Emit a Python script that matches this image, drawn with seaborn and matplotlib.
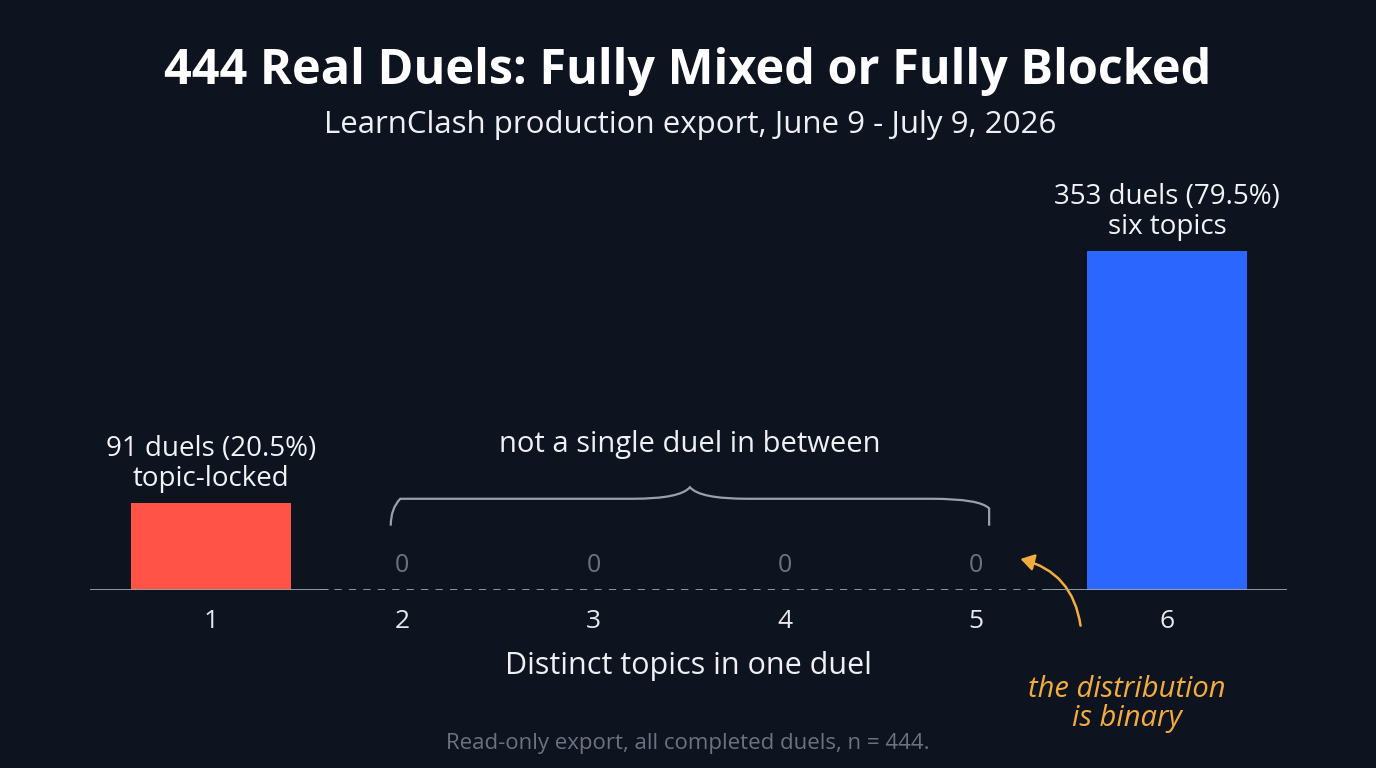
import matplotlib
matplotlib.use("Agg")
import matplotlib.pyplot as plt
import seaborn as sns
import pandas as pd
from matplotlib.path import Path
from matplotlib.patches import PathPatch, FancyArrowPatch

topics = [1, 2, 3, 4, 5, 6]
counts = [91, 0, 0, 0, 0, 353]
bar_colors = ["#ff5347", "#2b66ff", "#2b66ff", "#2b66ff", "#2b66ff", "#2b66ff"]
title = "444 Real Duels: Fully Mixed or Fully Blocked"
subtitle = "LearnClash production export, June 9 - July 9, 2026"
xlabel = "Distinct topics in one duel"
footer = "Read-only export, all completed duels, n = 444."
label_1 = "91 duels (20.5%)\ntopic-locked"
label_6 = "353 duels (79.5%)\nsix topics"
gap_text = "not a single duel in between"
note = "the distribution\nis binary"

BG = "#0e1320"
sns.set_theme(style="dark")
plt.rcParams["font.family"] = ["Open Sans", "DejaVu Sans"]

W, H = 1376, 768
fig = plt.figure(figsize=(W / 100, H / 100), dpi=100, facecolor=BG)
ymax = 420
px_per_unit = 0.9603
ax_top = 590 - ymax * px_per_unit
ax = fig.add_axes([90 / W, 1 - 590 / H, (1287 - 90) / W, (590 - ax_top) / H])
ax.set_facecolor(BG)

df = pd.DataFrame({"topics": topics, "counts": counts})
sns.barplot(data=df, x="topics", y="counts", native_scale=True, width=0.84,
            palette=bar_colors, hue="topics", legend=False, ax=ax, saturation=1,
            linewidth=0, edgecolor="none")
ax.set_xlim(0.367, 6.628)
ax.set_ylim(0, ymax)
for s in ax.spines.values():
    s.set_visible(False)
ax.axhline(0, color="#9aa0ad", lw=1.3, xmin=0, xmax=(1.61 - 0.367) / 6.261)
ax.axhline(0, color="#9aa0ad", lw=1.3, xmin=(5.39 - 0.367) / 6.261, xmax=1)
ax.plot([1.57, 5.45], [0, 0], color="#9aa0ad", lw=1.3, ls=(0, (4, 4)))
ax.set_xticks(topics)
ax.set_xticklabels([str(t) for t in topics], color="#e8eaef", fontsize=19)
ax.tick_params(axis="x", length=0, pad=14)
ax.set_yticks([])
ax.set_xlabel(xlabel, color="#eef0f4", fontsize=22, labelpad=12)
ax.set_ylabel("")
ax.grid(False)

for t, c in zip(topics, counts):
    if c == 0:
        ax.text(t, 26, "0", color="#6c7280", fontsize=18, ha="center", va="center")
ax.text(1, 91 + 10, label_1, color="#f2f3f6", fontsize=20, ha="center", va="bottom", linespacing=1.1)
ax.text(6, 353 + 10, label_6, color="#f2f3f6", fontsize=20, ha="center", va="bottom", linespacing=1.1)

# brace
x0, x1, xm = 1.94, 5.07, 3.505
yb, yt = 67, 95
verts = [(x0, yb), (x0, yt - 10), (x0 + 0.05, yt), (x0 + 0.3, yt),
         (xm - 0.3, yt), (xm - 0.05, yt), (xm, yt + 12),
         (xm + 0.05, yt), (xm + 0.3, yt),
         (x1 - 0.3, yt), (x1 - 0.05, yt), (x1, yt - 10), (x1, yb)]
codes = [Path.MOVETO, Path.CURVE3, Path.CURVE3, Path.LINETO,
         Path.LINETO, Path.CURVE3, Path.CURVE3, Path.CURVE3, Path.CURVE3,
         Path.LINETO, Path.CURVE3, Path.CURVE3, Path.LINETO]
ax.add_patch(PathPatch(Path(verts, codes), fill=False, ec="#9aa0ad", lw=1.6))
ax.text(xm, 152, gap_text, color="#eef0f4", fontsize=21, ha="center", va="center")

# arrow + note
ax.add_patch(FancyArrowPatch((5.55, -40), (5.22, 33), connectionstyle="arc3,rad=0.35",
                             arrowstyle="-|>,head_length=8,head_width=5", color="#f4ad3d", lw=1.8,
                             clip_on=False))
fig.text(1127 / W, 1 - 704 / H, note, color="#f4ad3d", fontsize=21, ha="center", va="center",
         style="italic", linespacing=1.0)

fig.text(688 / W, 1 - 72 / H, title, color="#ffffff", fontsize=35, weight="bold", ha="center", va="center")
fig.text(690 / W, 1 - 125 / H, subtitle, color="#eef0f4", fontsize=22.5, ha="center", va="center")
fig.text(688 / W, 1 - 743 / H, footer, color="#6c7280", fontsize=16, ha="center", va="center")

fig.savefig("out.png", dpi=100, facecolor=BG)
